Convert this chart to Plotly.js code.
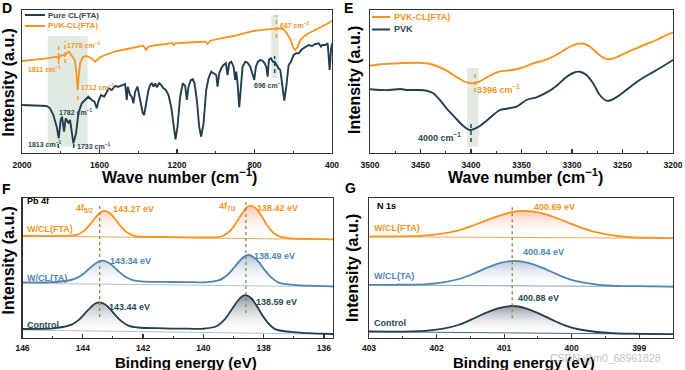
<!DOCTYPE html>
<html><head><meta charset="utf-8">
<script src="https://cdn.plot.ly/plotly-3.0.1.min.js"></script>
<style>html,body{margin:0;padding:0;background:#fff;}#chart{width:685px;height:370px;}</style>
</head><body><div id="chart"></div>
<script>
// ---------- Panel D : FTIR 2000-400 cm-1 ----------
const dWaveDark = [2000,1872.6,1855.3,1838.1,1820.9,1810.5,1800.2,1793.3,1783.0,1774.4,1764.0,1760.6,1752.0,1743.4,1734.8,1721.0,1708.9,1691.7,1674.5,1657.3,1640.0,1626.3,1614.2,1603.9,1591.8,1576.3,1566.0,1552.2,1536.7,1519.5,1502.3,1479.9,1467.8,1459.2,1454.0,1442.0,1433.4,1424.7,1416.1,1404.1,1393.7,1386.9,1376.5,1369.6,1359.3,1347.2,1338.6,1330.0,1321.4,1312.8,1304.2,1292.1,1281.8,1269.7,1257.7,1243.9,1230.1,1218.1,1207.7,1197.4,1183.6,1169.9,1157.8,1149.2,1140.6,1128.5,1118.2,1109.6,1097.5,1085.5,1075.1,1063.1,1049.3,1037.2,1023.5,1011.4,997.6,990.7,982.1,971.8,959.7,947.7,939.1,930.5,920.1,908.1,899.5,894.3,887.4,878.8,870.2,861.6,847.8,835.7,822.0,809.9,801.3,792.7,782.3,770.3,758.2,747.9,739.3,732.4,725.5,715.2,704.8,696.2,691.1,684.2,675.6,666.9,658.3,646.3,635.9,623.9,611.8,598.0,584.3,572.2,555.0,537.8,520.6,503.3,486.1,468.9,456.8,450.0,434.5,422.4,412.1,405.2,400];
const dIntDark = [48.0,47.0,44.7,38.0,26.3,14.7,33.0,36.3,21.3,34.7,31.3,29.7,33.0,19.7,9.7,19.7,39.7,49.7,53.0,56.3,53.0,51.3,44.7,53.0,58.0,56.3,59.7,64.7,63.0,67.0,66.3,68.0,69.0,53.0,66.3,58.0,56.3,49.7,61.3,66.3,56.3,53.0,39.7,38.0,49.7,63.0,68.0,69.7,66.3,69.7,65.7,69.7,68.0,64.7,63.0,58.0,46.3,26.3,13.7,26.3,56.3,69.7,67.0,53.0,66.3,73.0,73.7,69.7,53.0,26.3,16.3,29.7,63.0,74.7,81.3,79.7,78.0,66.3,79.7,84.7,88.0,89.7,78.0,89.7,91.3,86.3,73.0,81.3,69.7,45.7,69.7,86.3,91.3,90.3,86.3,78.0,73.0,86.3,91.3,93.0,92.3,89.7,86.3,76.3,93.0,94.7,91.3,91.3,89.7,86.3,84.7,83.0,69.7,52.3,66.3,88.0,91.3,98.0,99.7,99.7,103.7,106.3,108.0,107.0,109.0,109.7,106.3,108.0,108.0,109.7,83.0,103.0,109.7];
const dWaveOrange = [2000,1941.4,1872.6,1820.9,1810.5,1803.7,1786.4,1779.5,1769.2,1757.2,1748.5,1738.2,1727.9,1721.0,1715.8,1712.4,1707.2,1700.3,1686.5,1669.3,1652.1,1634.9,1622.8,1610.8,1597.0,1562.5,1510.9,1459.2,1407.5,1373.1,1359.3,1348.9,1304.2,1252.5,1226.7,1218.1,1209.5,1149.2,1097.5,1054.5,1042.4,1028.6,976.9,908.1,839.2,804.7,735.8,667.0,649.7,632.5,615.3,598.0,589.4,577.4,563.6,546.4,520.6,486.1,451.7,425.8,400];
const dIntOrange = [92.0,93.0,94.7,96.3,94.0,97.0,98.0,97.0,99.7,101.3,99.0,96.3,93.0,83.0,73.0,63.0,76.3,89.7,95.7,97.0,95.7,93.7,91.3,93.0,95.7,98.7,102.0,104.0,106.3,107.3,103.0,106.3,108.0,109.0,110.3,108.0,109.7,110.7,111.0,111.3,109.0,112.3,114.7,117.0,120.7,122.0,123.7,124.7,123.7,119.7,113.7,104.7,103.0,106.3,113.0,116.3,119.7,123.0,126.3,129.0,132.3];
const dPeaksOrange = [1811, 1778, 1712, 687];
const dPeaksDark = [1813, 1782, 1733, 696];

// ---------- Panel E : FTIR 3500-3200 cm-1 ----------
const eWaveOrange = [3500,3490.1,3480.2,3467.0,3453.8,3444.0,3434.1,3424.2,3415.9,3407.7,3402.7,3397.8,3391.2,3384.6,3378.0,3371.4,3364.8,3354.9,3346.7,3338.5,3328.6,3318.7,3308.8,3300.5,3294.0,3287.4,3280.8,3274.2,3267.6,3262.6,3256.0,3246.2,3236.3,3226.4,3216.5,3208.2,3200];
const eIntOrange = [87.3,88.7,89.3,90.0,90.3,89.7,87.0,82.3,77.0,72.0,70.3,69.7,71.7,75.7,79.0,81.7,82.3,83.7,86.3,89.7,92.3,96.3,102.3,107.0,109.3,109.0,105.3,99.0,94.7,93.7,95.7,100.3,104.7,109.0,113.0,117.0,120.7];
const eWaveDark = [3500,3490.1,3480.2,3470.3,3463.7,3453.8,3444.0,3437.4,3430.8,3424.2,3415.9,3407.7,3401.1,3397.8,3391.2,3384.6,3378.0,3371.4,3364.8,3354.9,3345.1,3335.2,3325.3,3315.4,3307.1,3298.9,3292.3,3285.7,3279.1,3272.5,3265.9,3261.0,3252.7,3242.9,3233.0,3223.1,3213.2,3200];
const eIntDark = [63.7,63.0,63.0,64.0,63.0,63.0,62.3,59.7,53.0,44.7,35.7,27.0,23.0,23.7,27.0,32.3,38.0,43.0,44.3,46.3,53.0,55.7,60.3,67.0,74.7,80.0,81.3,78.0,69.7,58.0,52.3,53.0,58.0,65.7,73.0,79.0,84.7,93.0];
const ePeakOrange = 3396;
const ePeakDark = 3400;

// ---------- Panel F : XPS Pb 4f ----------
const fX_FTA = [146,145,144.5,144.2,143.95,143.75,143.55,143.4,143.27,143.1,142.95,142.75,142.55,142.3,142.0,141.3,140.5,139.8,139.4,139.1,138.9,138.7,138.55,138.42,138.25,138.1,137.9,137.7,137.45,137.1,136.5,135.7];
const fY_FTA = [102.0,101.9,102.3,103.1,107.4,113.9,121.5,125.8,127.1,124.7,120.0,112.1,106.0,102.2,101.3,101.0,100.6,100.6,101.5,107.5,115.8,125.2,130.9,132.4,129.4,123.4,113.5,105.7,101.3,99.6,99.1,98.7];
const fBgX_FTA = [146, 135.7], fBgY_FTA = [102.0, 98.5];
const fX_TA = [146,145,144.57,144.27,144.02,143.82,143.62,143.47,143.34,143.17,143.02,142.82,142.62,142.37,142.07,141.3,140.5,139.87,139.47,139.17,138.97,138.77,138.62,138.49,138.32,138.17,137.97,137.77,137.52,137.1,136.5,135.7];
const fY_TA = [55.7,55.9,57.0,59.1,63.2,68.5,73.6,76.5,77.3,75.7,72.6,66.8,62.0,58.1,56.7,56.1,55.9,55.9,57.8,64.0,71.0,78.0,81.9,83.0,80.6,76.2,68.0,61.2,55.7,53.3,52.3,51.6];
const fBgX_TA = [146, 135.7], fBgY_TA = [54.7, 51.3];
const fX_Ctrl = [146,145,144.67,144.37,144.12,143.92,143.72,143.57,143.44,143.27,143.12,142.92,142.72,142.47,142.17,141.3,140.5,139.97,139.57,139.27,139.07,138.87,138.72,138.59,138.42,138.27,138.07,137.87,137.62,137.1,136.5,135.7];
const fY_Ctrl = [9.0,9.6,11.0,13.4,18.4,24.8,31.2,34.7,35.7,33.8,29.9,22.9,16.9,12.1,10.5,9.7,9.3,9.4,11.7,19.4,28.1,36.7,41.6,42.9,40.0,34.1,24.1,15.6,8.9,6.1,4.8,4.0];
const fBgX_Ctrl = [146, 135.7], fBgY_Ctrl = [8.0, 3.7];
const fPeaksFTA = [143.27, 138.42], fPeaksTA = [143.34, 138.49], fPeaksCtrl = [143.44, 138.59];

// ---------- Panel G : XPS N 1s ----------
const gX_FTA = [403,402.89,402.49,402.19,401.94,401.69,401.49,401.29,401.09,400.89,400.69,400.49,400.29,400.09,399.89,399.69,399.44,399.19,398.89,398.5];
const gY_FTA = [101.4,101.5,101.6,102.3,104.1,107.4,111.7,116.9,121.8,125.8,127.0,125.6,121.5,116.5,111.1,106.7,103.2,101.2,100.3,99.9];
const gBgX_FTA = [403, 398.5], gBgY_FTA = [101.3, 99.7];
const gX_TA = [403,402.64,402.34,402.09,401.84,401.64,401.44,401.24,401.04,400.84,400.64,400.44,400.24,400.04,399.84,399.59,399.34,399.04,398.5];
const gY_TA = [53.1,53.2,53.4,54.2,56.4,59.5,64.7,70.6,75.3,77.2,75.1,70.3,64.3,58.9,55.6,53.2,52.2,51.8,51.4];
const gBgX_TA = [403, 398.5], gBgY_TA = [53.0, 51.3];
const gX_Ctrl = [403,402.68,402.38,402.13,401.88,401.68,401.48,401.28,401.08,400.88,400.68,400.48,400.28,400.08,399.88,399.63,399.38,399.08,398.5];
const gY_Ctrl = [6.5,6.4,6.6,7.4,9.7,13.0,18.6,24.9,29.9,32.0,29.7,24.4,17.9,12.1,8.5,6.0,4.9,4.3,3.8];
const gBgX_Ctrl = [403, 398.5], gBgY_Ctrl = [6.3, 3.7];
const gPeaks = {FTA: 400.69, TA: 400.84, Ctrl: 400.88};

// ---------- styling ----------
const W = 685, H = 370;
const FONT = 'Liberation Sans, Arial, sans-serif';
const DARK = '#223e4f', ORANGE = '#f7931e', BLUE = '#4f85b0';
const DARKTXT = '#2a4759';
const px = v => v / W, py = v => 1 - v / H;

const traces = [];
// D
traces.push({x: dWaveDark, y: dIntDark, xaxis: 'x', yaxis: 'y', mode: 'lines', line: {color: DARK, width: 1.9}});
traces.push({x: dWaveOrange, y: dIntOrange, xaxis: 'x', yaxis: 'y', mode: 'lines', line: {color: ORANGE, width: 1.8}});
// E
traces.push({x: eWaveOrange, y: eIntOrange, xaxis: 'x2', yaxis: 'y2', mode: 'lines', line: {color: ORANGE, width: 1.9, shape: 'spline', smoothing: 0.8}});
traces.push({x: eWaveDark, y: eIntDark, xaxis: 'x2', yaxis: 'y2', mode: 'lines', line: {color: DARK, width: 1.9, shape: 'spline', smoothing: 0.8}});

function xpsPair(bx, by, cx, cy, xa, ya, col, bgcol, fillTop) {
  traces.push({x: bx, y: by, xaxis: xa, yaxis: ya, mode: 'lines', line: {color: bgcol, width: 1}});
  traces.push({x: cx, y: cy, xaxis: xa, yaxis: ya, mode: 'lines', line: {color: col, width: 1.8, shape: 'spline', smoothing: 1},
    fill: 'tonexty', fillgradient: {type: 'vertical', colorscale: [[0, 'rgba(255,255,255,0)'], [1, fillTop]]}});
}
xpsPair(fBgX_FTA, fBgY_FTA, fX_FTA, fY_FTA, 'x3', 'y3', ORANGE, '#f5a55c', 'rgba(244,120,70,0.45)');
xpsPair(fBgX_TA, fBgY_TA, fX_TA, fY_TA, 'x3', 'y3', BLUE, '#a9c3d8', 'rgba(70,115,160,0.45)');
xpsPair(fBgX_Ctrl, fBgY_Ctrl, fX_Ctrl, fY_Ctrl, 'x3', 'y3', DARK, '#b3c1ca', 'rgba(30,50,65,0.55)');
xpsPair(gBgX_FTA, gBgY_FTA, gX_FTA, gY_FTA, 'x4', 'y4', ORANGE, '#f5a55c', 'rgba(244,120,70,0.4)');
xpsPair(gBgX_TA, gBgY_TA, gX_TA, gY_TA, 'x4', 'y4', BLUE, '#7fa3c2', 'rgba(70,115,160,0.4)');
xpsPair(gBgX_Ctrl, gBgY_Ctrl, gX_Ctrl, gY_Ctrl, 'x4', 'y4', DARK, '#4d6676', 'rgba(30,50,65,0.5)');

const tickfont = {family: FONT, size: 8.5, color: '#111', weight: 700};
function xax(domain, range, dtick, tick0, mdtick, anchor, standoff) {
  return {domain, range, dtick, tick0, anchor, tickmode: 'linear',
    tickprefix: '<b>', ticksuffix: '</b>',
    showline: true, mirror: true, linecolor: '#333', linewidth: 1.4,
    ticks: 'inside', ticklen: 4, tickwidth: 1.2, tickcolor: '#333',
    minor: {ticks: 'inside', ticklen: 2.5, dtick: mdtick, tick0, tickcolor: '#333', tickwidth: 1},
    showgrid: false, zeroline: false, tickfont, ticklabelstandoff: standoff, fixedrange: true};
}
function yax(domain, range, anchor) {
  return {domain, range, anchor, showline: true, mirror: true, linecolor: '#333', linewidth: 1.4,
    ticks: '', showticklabels: false, showgrid: false, zeroline: false, fixedrange: true};
}

const topDom = [py(153), py(10)], botDom = [py(338), py(198)];

const annotations = [];
function A(text, x, y, size, color, xanchor, extra) {
  annotations.push(Object.assign({text, x: px(x), y: py(y), xref: 'paper', yref: 'paper', xanchor: xanchor || 'left',
    yanchor: 'middle', showarrow: false, borderpad: 0, font: {family: FONT, size, color}}, extra || {}));
}
// panel letters
A('<b>D</b>', 1, 8, 14, '#000'); A('<b>E</b>', 343, 8, 14, '#000');
A('<b>F</b>', 1, 189, 14, '#000'); A('<b>G</b>', 344, 188, 14, '#000');
// axis titles
const wn = '<b>Wave number (cm<sup>−1</sup>)</b>', be = '<b>Binding energy (eV)</b>', inten = '<b>Intensity (a.u.)</b>';
A(wn, 179, 176, 16, '#000', 'center'); A(wn, 525, 176, 16, '#000', 'center');
A(be, 186, 362, 15, '#000', 'center'); A(be, 524, 362, 15, '#000', 'center');
A(inten, 7.5, 83, 16, '#000', 'center', {textangle: -90});
A(inten, 354, 80, 16, '#000', 'center', {textangle: -90});
A(inten, 7.5, 261, 16, '#000', 'center', {textangle: -90});
A(inten, 352, 268, 16, '#000', 'center', {textangle: -90});
// D legend and labels
A('<b>Pure CL(FTA)</b>', 47, 15, 8, DARKTXT); A('<b>PVK-CL(FTA)</b>', 47, 26, 8, ORANGE);
A('<b>1778 cm<sup>−1</sup></b>', 66, 45.5, 7, ORANGE);
A('<b>1811 cm<sup>−1</sup></b>', 27, 68.5, 7, ORANGE);
A('<b>1712 cm<sup>−1</sup></b>', 80, 87, 7, ORANGE);
A('<b>1782 cm<sup>−1</sup></b>', 57.5, 112, 7, DARKTXT);
A('<b>1813 cm<sup>−1</sup></b>', 27, 144, 7, DARKTXT);
A('<b>1733 cm<sup>−1</sup></b>', 75.5, 145.5, 7, DARKTXT);
A('<b>687 cm<sup>−1</sup></b>', 279, 25, 7, ORANGE);
A('<b>696 cm<sup>−1</sup></b>', 253, 84.5, 7, DARKTXT);
// E legend and labels
A('<b>PVK-CL(FTA)</b>', 393, 17, 9, ORANGE); A('<b>PVK</b>', 393, 29.5, 9, DARKTXT);
A('<b>3396 cm<sup>−1</sup></b>', 476, 89, 9, ORANGE);
A('<b>4000 cm<sup>−1</sup></b>', 417, 137, 9, DARKTXT);
// F labels
A('<b>Pb 4f</b>', 26, 201, 9, '#000');
A('<b>4f<sub>5/2</sub></b>', 75, 208, 9, ORANGE);
A('<b>' + fPeaksFTA[0].toFixed(2) + ' eV</b>', 112, 209, 9, ORANGE);
A('<b>4f<sub>7/2</sub></b>', 218, 207, 9, ORANGE);
A('<b>' + fPeaksFTA[1].toFixed(2) + ' eV</b>', 256, 208, 9, ORANGE);
A('<b>W/CL(FTA)</b>', 26, 229, 9, ORANGE);
A('<b>' + fPeaksTA[0].toFixed(2) + ' eV</b>', 109, 261, 9, BLUE);
A('<b>' + fPeaksTA[1].toFixed(2) + ' eV</b>', 253, 256, 9, BLUE);
A('<b>W/CL(TA)</b>', 26, 278, 9, BLUE);
A('<b>' + fPeaksCtrl[0].toFixed(2) + ' eV</b>', 108, 307, 9, DARKTXT);
A('<b>' + fPeaksCtrl[1].toFixed(2) + ' eV</b>', 255, 302, 9, DARKTXT);
A('<b>Control</b>', 26, 325, 9, DARKTXT);
// G labels
A('<b>N 1s</b>', 376, 206, 9, '#000');
A('<b>' + gPeaks.FTA.toFixed(2) + ' eV</b>', 533, 207, 9, ORANGE);
A('<b>W/CL(FTA)</b>', 373, 228, 9, ORANGE);
A('<b>' + gPeaks.TA.toFixed(2) + ' eV</b>', 522, 252, 9, BLUE);
A('<b>W/CL(TA)</b>', 373, 276, 9, BLUE);
A('<b>' + gPeaks.Ctrl.toFixed(2) + ' eV</b>', 517, 298, 9, DARKTXT);
A('<b>Control</b>', 373, 323, 9, DARKTXT);
// watermark
A('CSDN @m0_68961828', 605, 358, 10.5, 'rgba(170,170,170,0.75)', 'center');

const shapes = [];
const BAND = 'rgba(205,220,205,0.6)';
// shaded bands (data coords)
shapes.push({type: 'rect', xref: 'x', yref: 'y', x0: 1867, x1: 1661, y0: 6.5, y1: 117, fillcolor: BAND, line: {width: 0}, layer: 'below'});
shapes.push({type: 'rect', xref: 'x', yref: 'y', x0: 713, x1: 675, y0: 75, y1: 138, fillcolor: BAND, line: {width: 0}, layer: 'below'});
shapes.push({type: 'rect', xref: 'x2', yref: 'y2', x0: 3403.7, x1: 3392.5, y0: 6.3, y1: 85, fillcolor: BAND, line: {width: 0}, layer: 'below'});
// dashed peak markers
function mark(xr, yr, x, y0, y1, col) {
  shapes.push({type: 'line', xref: xr, yref: yr, x0: x, x1: x, y0, y1, line: {color: col, width: 1.4, dash: '4px,3px'}});
}
mark('x', 'y', dPeaksOrange[0], 89, 107, ORANGE);
mark('x', 'y', dPeaksOrange[1], 90, 112, ORANGE);
mark('x', 'y', dPeaksOrange[2], 53, 59, ORANGE);
mark('x', 'y', dPeaksOrange[3], 115, 138, ORANGE);
mark('x', 'y', dPeaksDark[0], 5, 11, DARK);
mark('x', 'y', dPeaksDark[2], 5, 11, DARK);
mark('x', 'y', dPeaksDark[3], 80, 97, DARK);
mark('x2', 'y2', ePeakOrange, 61, 82, ORANGE);
mark('x2', 'y2', ePeakDark, 11, 29, DARK);
// dotted reference lines at control peaks
const OLIVE = '#8c8a3c';
function dotted(xr, yr, x, y0, y1) {
  shapes.push({type: 'line', xref: xr, yref: yr, x0: x, x1: x, y0, y1, line: {color: OLIVE, width: 1.3, dash: 'dot'}});
}
dotted('x3', 'y3', fPeaksCtrl[0], 21, 134);
dotted('x3', 'y3', fPeaksCtrl[1], 25, 138);
dotted('x4', 'y4', gPeaks.Ctrl, 19.7, 131);
// legend swatches
function sw(x0, x1, y, col) {
  shapes.push({type: 'line', xref: 'paper', yref: 'paper', x0: px(x0), x1: px(x1), y0: py(y), y1: py(y), line: {color: col, width: 2}});
}
sw(25, 45, 15, DARK); sw(25, 45, 26, ORANGE);
sw(372, 390, 17, ORANGE); sw(372, 390, 29.5, DARK);

const layout = {
  width: W, height: H, margin: {l: 0, r: 0, t: 0, b: 0}, paper_bgcolor: '#fff', plot_bgcolor: '#fff',
  showlegend: false, font: {family: FONT},
  xaxis: xax([px(22), px(332)], [2000, 400], 400, 400, 200, 'y', 3),
  yaxis: yax(topDom, [0, 143], 'x'),
  xaxis2: xax([px(370), px(673)], [3500, 3200], 50, 3200, 25, 'y2', 3),
  yaxis2: yax(topDom, [0, 143], 'x2'),
  xaxis3: xax([px(22.5), px(333)], [146, 135.7], 2, 136, 1, 'y3', 1),
  yaxis3: yax(botDom, [0, 140], 'x3'),
  xaxis4: xax([px(369), px(673)], [403, 398.5], 1, 399, 0.5, 'y4', 1),
  yaxis4: yax(botDom, [0, 140], 'x4'),
  annotations, shapes
};
Plotly.newPlot('chart', traces, layout, {displayModeBar: false, staticPlot: true});
</script></body></html>
